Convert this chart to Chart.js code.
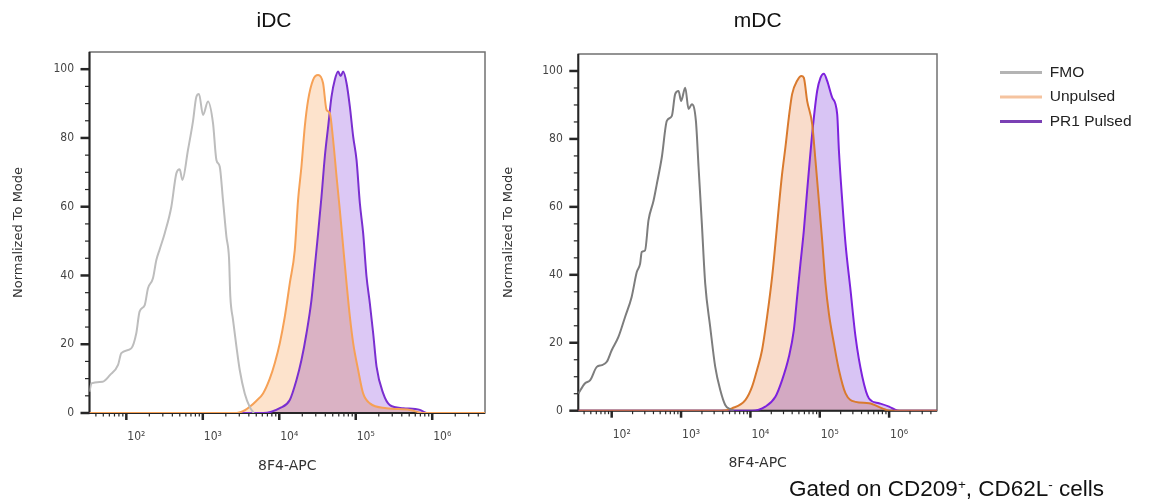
<!DOCTYPE html>
<html>
<head>
<meta charset="utf-8">
<script src="https://cdn.jsdelivr.net/npm/chart.js@4.4.1/dist/chart.umd.min.js"></script>
<style>
    html, body { margin: 0; padding: 0; background: #fff; }
    body { width: 1164px; height: 502px; position: relative; overflow: hidden; }
    canvas { position: absolute; top: 0; }
    #idc { left: 0; }
    #mdc { left: 490px; }
    #gate {
        position: absolute; left: 789px; top: 476px;
        font: 22.5px "Liberation Sans", Arial, sans-serif; line-height: 26px;
        color: #111; white-space: nowrap;
    }
    #gate sup { font-size: 0.6em; line-height: 0; vertical-align: 0.55em; }
</style>
</head>
<body>
<canvas id="idc" width="548" height="480"></canvas>
<canvas id="mdc" width="674" height="480"></canvas>
<div id="gate">Gated on CD209<sup>+</sup>, CD62L<sup>-</sup> cells</div>
<script>
// series names / legend
const series_names = ['FMO', 'Unpulsed', 'PR1 Pulsed']
const legend_colors = ['#b4b4b4', '#f5c39f', '#7a40b4']
const panel_titles = ['iDC', 'mDC']
const x_title = '8F4-APC'
const y_title = 'Normalized To Mode'

// axes
const x_min = 33
const x_max = 4900000
const x_major_ticks = [100, 1000, 10000, 100000, 1000000]
const x_tick_labels = ['10²', '10³', '10⁴', '10⁵', '10⁶']
const x_minor_steps = [2, 3, 4, 5, 6, 7, 8, 9]
const y_ticks = [0, 5, 10, 15, 20, 25, 30, 35, 40, 45, 50, 55, 60, 65, 70, 75, 80, 85, 90, 95, 100]
const y_label_step = 20
const y_max = 105

// iDC
const idcFmoX = [33, 35, 49, 61, 78, 86, 116, 135, 149, 174, 192, 223, 247, 273, 318, 388, 451, 499, 541, 640, 744, 824, 892, 1006, 1170, 1360, 1506, 1664, 1837, 2036, 2203, 2290, 2485, 2754, 3041, 3535, 4107, 4634]
const idcFmoY = [6.2, 8.6, 9.1, 11, 14, 17.4, 18.8, 23.2, 29.5, 31.4, 36.3, 39.2, 44.5, 47.6, 52.3, 60, 69.7, 70.9, 67.8, 76.5, 84.8, 92, 92.8, 86.7, 90.6, 84.3, 73.6, 71.7, 61.9, 51.3, 45, 34, 27.1, 19.3, 12.5, 5.7, 1.8, 0]
const idcUnpulsedX = [33, 2754, 3550, 4111, 5000, 6138, 7516, 8730, 10160, 11810, 13720, 15950, 17620, 19500, 21560, 23830, 27690, 32180, 37410, 41460, 45810, 50620, 56080, 61960, 68450, 75830, 83780, 92550, 107500, 124900, 153000, 253000, 511000, 762000, 4900000]
const idcUnpulsedY = [0, 0, 0.8, 1.8, 3.5, 5.7, 10, 14.5, 20.3, 28, 37.7, 47.4, 62, 71.7, 83.3, 91, 96.9, 98.3, 95.9, 88.2, 87.2, 79.4, 68.8, 59, 48.4, 37.7, 28, 20.3, 12.5, 5.7, 2.8, 1.4, 0.9, 0, 0]
const idcPulsedX = [33, 6140, 10160, 13720, 16790, 19500, 22700, 26370, 29160, 32210, 35650, 39430, 43560, 48200, 53240, 58840, 63500, 68440, 75830, 83760, 92550, 102400, 113200, 125000, 138300, 152900, 169000, 187100, 228600, 279500, 417600, 690000, 845000, 4900000]
const idcPulsedY = [0, 0, 1.4, 3.8, 9.6, 15.4, 23.2, 32.9, 42.6, 52.3, 62.9, 74.6, 83.3, 92, 96.9, 99.3, 98, 99.3, 95.9, 89.1, 80.4, 73.6, 61, 52.3, 39.7, 31.9, 23.2, 13.5, 5.7, 2.3, 1.4, 0.9, 0, 0]

// mDC (right panel)
const mdcFmoX = [33, 41, 49, 61, 72, 85, 100, 125, 156, 194, 230, 257, 271, 303, 339, 401, 447, 528, 624, 737, 822, 920, 1003, 1148, 1283, 1432, 1637, 1790, 1995, 2230, 2631, 3110, 3676, 4336, 5130, 5740]
const mdcFmoY = [5, 8, 9, 12.9, 13.4, 14.4, 17.8, 21.7, 27.6, 33.5, 40.8, 43.3, 46.7, 47.2, 56, 61.8, 66.7, 74.6, 85.3, 86.8, 93.2, 94.1, 91.2, 95.1, 88.8, 90.2, 85.3, 71.6, 55, 37.4, 24.7, 12.9, 6.1, 1.7, 0.4, 0]
const mdcUnpulsedX = [33, 3890, 5420, 8440, 10540, 12450, 14710, 17380, 20530, 22910, 25650, 28630, 31940, 35790, 39930, 47150, 54420, 58900, 65760, 77680, 86730, 97060, 108300, 120900, 135400, 159900, 188900, 235200, 327900, 512500, 798000, 998000, 4900000]
const mdcUnpulsedY = [0, 0, 0.7, 3.1, 7, 12, 17.8, 27.6, 39.3, 49.1, 59.9, 69.7, 77.5, 86.3, 93.2, 97.1, 98.5, 98, 91.2, 84.4, 73.6, 61.8, 50.1, 37.4, 28.6, 19.8, 12, 5.1, 2.6, 2.2, 0.7, 0, 0]
const mdcPulsedX = [33, 10540, 16410, 22910, 28630, 35790, 42270, 47150, 52630, 58900, 65760, 70970, 79430, 91650, 102300, 114500, 127800, 151000, 178300, 188900, 210800, 235200, 277800, 327900, 410300, 512500, 714500, 998000, 1242000, 1390000, 4900000]
const mdcPulsedY = [0, 0, 1.2, 4.1, 9, 15.8, 23.7, 33.5, 43.3, 53, 64.8, 72.6, 83.4, 94.1, 98, 99.2, 97.1, 92.2, 87.3, 76.5, 61.8, 49.1, 35.4, 21.7, 10, 3.6, 2.2, 1.2, 0.2, 0, 0]


Chart.defaults.font.family = 'DejaVu Sans'
const tick_font = {family: "'DejaVu Sans Condensed', 'DejaVu Sans'", size: 12}

// minor ticks at 2..9 x each decade, inside the axis range
let x_tick_values = []
for (const decade of [10, 100, 1000, 10000, 100000, 1000000]) {
    if (decade >= x_min && decade <= x_max) x_tick_values.push(decade)
    x_minor_steps.forEach((m) => {
        let v = m * decade
        if (v >= x_min && v <= x_max) x_tick_values.push(v)
    })
}
x_tick_values.sort((a, b) => a - b)

function to_points(xs, ys){
    return xs.map((x, i) => { return {x: x, y: ys[i]} })
}

// frame, axis lines, tick marks; fills are blended with multiply like the original overlay
const frame_plugin = {
    id: 'frame_plugin',
    afterLayout(chart){
        const pos = chart.options.plugins.legend.place
        const lg = chart.legend
        if (pos && lg) {
            const dx = pos.left - lg.left
            const dy = pos.top - lg.top
            lg.left += dx; lg.right += dx
            lg.top += dy; lg.bottom += dy
        }
        const cx = chart.options.plugins.title.center_x
        const tb = chart.titleBlock
        if (cx && tb) {
            const dx = cx - (tb.left + tb.right) / 2
            tb.left += dx; tb.right += dx
        }
    },
    beforeDraw(chart){
        chart.ctx.globalCompositeOperation = 'multiply'
    },
    beforeDatasetsDraw(chart){
        const ctx = chart.ctx
        ctx.globalCompositeOperation = 'source-over'
        const area = chart.chartArea
        const xs = chart.scales.x
        const ys = chart.scales.y
        ctx.save()
        ctx.strokeStyle = '#707070'
        ctx.lineWidth = 1.5
        ctx.strokeRect(area.left, area.top, area.right - area.left, area.bottom - area.top)

        ctx.strokeStyle = '#262626'
        ctx.lineWidth = 2
        ctx.beginPath()
        ctx.moveTo(area.left, area.top)
        ctx.lineTo(area.left, area.bottom)
        ctx.lineTo(area.right, area.bottom)
        ctx.stroke()

        ys.ticks.forEach((t) => {
            const py = ys.getPixelForValue(t.value)
            const major = t.value % y_label_step === 0
            ctx.lineWidth = major ? 2.5 : 1.2
            ctx.beginPath()
            ctx.moveTo(area.left - (major ? 9 : 4.5), py)
            ctx.lineTo(area.left, py)
            ctx.stroke()
        })
        xs.ticks.forEach((t) => {
            const px = xs.getPixelForValue(t.value)
            const major = x_major_ticks.includes(t.value)
            ctx.lineWidth = major ? 2.5 : 1.2
            ctx.beginPath()
            ctx.moveTo(px, area.bottom)
            ctx.lineTo(px, area.bottom + (major ? 7 : 3.5))
            ctx.stroke()
        })
        ctx.restore()
    }
}

function make_panel(canvas_id, p){
    const datasets = [
        {label: series_names[0], data: to_points(p.fmo[0], p.fmo[1]), borderColor: p.line_colors[0], fill: false},
        {label: series_names[1], data: to_points(p.unpulsed[0], p.unpulsed[1]), borderColor: p.line_colors[1], backgroundColor: p.fill_colors[1], fill: 'origin'},
        {label: series_names[2], data: to_points(p.pulsed[0], p.pulsed[1]), borderColor: p.line_colors[2], backgroundColor: p.fill_colors[2], fill: 'origin'}
    ]

    return new Chart(document.getElementById(canvas_id), {
        type: 'line',
        data: {datasets: datasets},
        options: {
            responsive: false,
            animation: false,
            events: [],
            devicePixelRatio: 1,
            layout: {padding: p.padding},
            elements: {
                point: {radius: 0},
                line: {cubicInterpolationMode: 'monotone', borderWidth: 2}
            },
            scales: {
                x: {
                    type: 'logarithmic',
                    min: x_min,
                    max: x_max,
                    grid: {display: false, drawTicks: false},
                    border: {display: false},
                    afterBuildTicks: (s) => { s.ticks = x_tick_values.map((v) => ({value: v})) },
                    afterFit: (s) => { s.height = 61.5 },
                    ticks: {
                        autoSkip: false,
                        maxRotation: 0,
                        padding: 17,
                        labelOffset: 10,
                        color: '#444',
                        font: tick_font,
                        callback: (v) => {
                            const i = x_major_ticks.indexOf(v)
                            return i >= 0 ? x_tick_labels[i] : ''
                        }
                    },
                    title: {display: true, text: x_title, color: '#333', font: {size: 14}, padding: 0}
                },
                y: {
                    type: 'linear',
                    min: 0,
                    max: y_max,
                    grid: {display: false, drawTicks: false},
                    border: {display: false},
                    afterBuildTicks: (s) => { s.ticks = y_ticks.map((v) => ({value: v})) },
                    afterFit: (s) => { s.width = p.y_width },
                    ticks: {
                        autoSkip: false,
                        padding: 15.5,
                        color: '#444',
                        font: tick_font,
                        callback: (v) => (v % y_label_step === 0 ? String(v) : '')
                    },
                    title: {display: true, text: y_title, color: '#333', font: {size: 13}, padding: 0}
                }
            },
            plugins: {
                filler: {drawTime: 'beforeDatasetsDraw'},
                tooltip: {enabled: false},
                title: {
                    display: true,
                    text: p.title,
                    fullSize: p.title_full,
                    center_x: p.title_center,
                    color: '#111',
                    font: {family: 'Liberation Sans', size: 21, weight: 'normal'},
                    padding: {top: 0, bottom: p.title_gap}
                },
                legend: {
                    display: p.show_legend,
                    position: 'chartArea',
                    align: 'start',
                    place: p.legend_place,
                    labels: {
                        usePointStyle: true,
                        pointStyleWidth: 42,
                        padding: 9,
                        color: '#222',
                        font: {family: 'Liberation Sans', size: 15.5},
                        generateLabels: () => series_names.map((name, i) => ({
                            text: name,
                            strokeStyle: legend_colors[i],
                            fillStyle: legend_colors[i],
                            fontColor: '#222',
                            lineWidth: 3,
                            pointStyle: 'line',
                            hidden: false,
                            datasetIndex: i
                        }))
                    }
                }
            }
        },
        plugins: [frame_plugin]
    })
}

make_panel('idc', {
    title: panel_titles[0],
    title_full: true,
    title_center: 274,
    title_gap: 17.8,
    y_width: 78.5,
    padding: {left: 11, right: 63, top: 9, bottom: 5.5},
    show_legend: false,
    legend_place: null,
    fmo: [idcFmoX, idcFmoY],
    unpulsed: [idcUnpulsedX, idcUnpulsedY],
    pulsed: [idcPulsedX, idcPulsedY],
    line_colors: ['#bdbdbd', '#f6a156', '#7a2fd0'],
    fill_colors: [null, '#fde3cc', '#dcc8f5']
})

make_panel('mdc', {
    title: panel_titles[1],
    title_full: false,
    title_center: null,
    title_gap: 19.8,
    y_width: 77.8,
    padding: {left: 10.5, right: 227, top: 9, bottom: 7.8},
    show_legend: true,
    legend_place: {left: 501, top: 55.8},
    fmo: [mdcFmoX, mdcFmoY],
    unpulsed: [mdcUnpulsedX, mdcUnpulsedY],
    pulsed: [mdcPulsedX, mdcPulsedY],
    line_colors: ['#7d7d7d', '#d97a2e', '#7d22dd'],
    fill_colors: [null, '#f9dccb', '#d8c4f4']
})
</script>
</body>
</html>
